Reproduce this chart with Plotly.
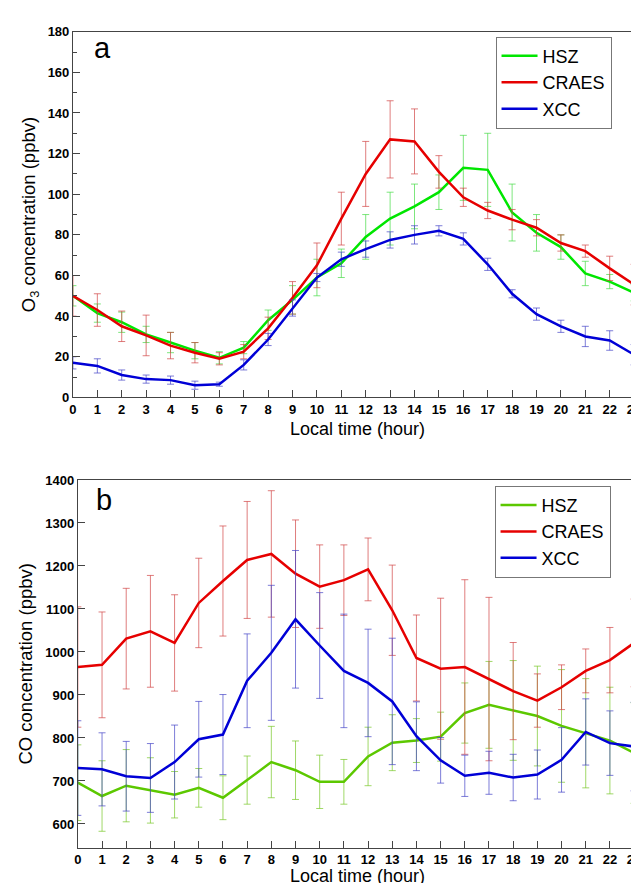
import plotly.graph_objects as go

hours = list(range(24))

# panel a: O3 (ppbv)
o3_hsz = [50, 41.5, 37, 31, 27, 23, 19.5, 24.5, 38, 48, 59, 66, 79, 88, 94, 101,
          113, 112, 91, 81, 74, 61, 57, 51.5]
o3_hsz_err = [5, 4.5, 5, 4, 5, 4, 3, 3, 5, 7, 9, 7, 11, 13, 11, 8.5,
              16, 18, 14, 9, 6, 6, 3.5, 4]
o3_craes = [50, 43, 35, 30.5, 25.5, 22, 19, 22.5, 34, 49, 65, 88, 110, 127, 126, 111,
            98.5, 92, 87.5, 83.5, 76, 72, 63.5, 55.5]
o3_craes_err = [10, 8, 7.5, 10, 6.5, 5, 3, 3.5, 5.5, 8, 11, 13, 16, 19, 16, 8,
                4.5, 4, 5, 4, 4, 3, 6, 10]
o3_xcc = [17, 15.5, 11, 9, 8.5, 6, 6.5, 16, 28.5, 44, 59, 68, 73, 77.5, 80, 82,
          78, 65.5, 51, 41, 35, 30, 28, 21]
o3_xcc_err = [3, 3.5, 2.5, 2, 2, 2, 1, 2.5, 3, 4, 2, 3.5, 4, 4, 4.5, 2.5,
              3, 3, 2, 3, 3, 5, 4.8, 5]

# panel b: CO (ppbv)
co_hsz = [696, 665, 689, 678, 668, 684, 661, 702, 744, 725, 698, 698, 757, 789, 794, 803,
          858, 877, 864, 851, 828, 811, 794, 765]
co_hsz_err = [88, 82, 84, 76, 54, 45, 51, 56, 83, 68, 62, 52, 68, 65, 51, 57,
              70, 101, 116, 116, 131, 127, 124, 117]
co_craes = [965, 970, 1031, 1048, 1021, 1114, 1165, 1214, 1228, 1182, 1152, 1167, 1192, 1097, 986, 961,
            965, 937, 909, 887, 918, 956, 981, 1021]
co_craes_err = [140, 123, 117, 130, 112, 104, 128, 136, 147, 125, 97, 82, 73, 105, 100, 164,
                203, 190, 113, 62, 52, 51, 76, 102]
co_xcc = [730, 727, 711, 707, 744, 797, 808, 933, 998, 1076, 1015, 956, 928, 885, 804, 748,
          712, 719, 708, 715, 749, 814, 788, 780]
co_xcc_err = [110, 85, 81, 80, 86, 88, 93, 109, 157, 160, 123, 132, 125, 147, 80, 53,
              48, 50, 54, 57, 75, 77, 75, 103]

names = ["HSZ", "CRAES", "XCC"]
colors_a = ["#00e600", "#e60000", "#0000d6"]
err_a = ["rgba(70,220,70,0.7)", "rgba(210,70,70,0.7)", "rgba(70,70,200,0.7)"]
colors_b = ["#5cc800", "#e60000", "#0000d6"]
err_b = ["rgba(120,200,40,0.7)", "rgba(210,70,70,0.7)", "rgba(70,70,200,0.7)"]

fig = go.Figure()

series_a = [(o3_hsz, o3_hsz_err), (o3_craes, o3_craes_err), (o3_xcc, o3_xcc_err)]
series_b = [(co_hsz, co_hsz_err), (co_craes, co_craes_err), (co_xcc, co_xcc_err)]

for i, (vals, errs) in enumerate(series_a):
    fig.add_trace(go.Scatter(
        x=hours, y=vals, mode="lines", name=names[i],
        line=dict(color=colors_a[i], width=2.5),
        error_y=dict(type="data", array=errs, color=err_a[i], thickness=1, width=3.5),
        xaxis="x", yaxis="y", legend="legend", cliponaxis=False,
    ))

for i, (vals, errs) in enumerate(series_b):
    fig.add_trace(go.Scatter(
        x=hours, y=vals, mode="lines", name=names[i],
        line=dict(color=colors_b[i], width=2.5),
        error_y=dict(type="data", array=errs, color=err_b[i], thickness=1, width=3.5),
        xaxis="x2", yaxis="y2", legend="legend2", cliponaxis=False,
    ))

W, H = 639, 883
tick_font = dict(family="Liberation Sans Narrow, Arial Narrow, Liberation Sans", size=13,
                 color="black", weight="bold")
title_font = dict(family="Liberation Sans, Arial", size=18.5, color="black")
xtitle_font = dict(family="Liberation Sans, Arial", size=18, color="black")
label_font = dict(family="Liberation Sans, Arial", size=29, color="black")

common_x = dict(range=[0, 23], dtick=1, ticks="inside", ticklen=7, tickcolor="#444",
                showline=True, linecolor="#444", linewidth=1, mirror=True,
                showgrid=False, zeroline=False, tickfont=tick_font,
                ticklabeloverflow="allow")
common_y = dict(ticks="inside", ticklen=7, tickcolor="#444",
                showline=True, linecolor="#444", linewidth=1, mirror=True,
                showgrid=False, zeroline=False, tickfont=tick_font)

legend_style = dict(font=dict(family="Liberation Sans, Arial", size=18, color="black"),
                    bordercolor="#777", borderwidth=1, bgcolor="white",
                    xanchor="left", yanchor="top", tracegroupgap=0, itemwidth=36)

fig.update_layout(
    width=W, height=H,
    margin=dict(l=0, r=0, t=0, b=0),
    plot_bgcolor="white", paper_bgcolor="white",
    xaxis=dict(common_x, domain=[62 / W, 633 / W], anchor="y"),
    yaxis=dict(common_y, domain=[(H - 389) / H, (H - 17) / H], anchor="x",
               range=[0, 180], dtick=20,
               minor=dict(dtick=10, ticks="inside", ticklen=4, tickcolor="#444"),
               title=dict(text="O<sub>3</sub> concentration (ppbv)", font=title_font, standoff=7)),
    xaxis2=dict(common_x, domain=[67 / W, 633 / W], anchor="y2"),
    yaxis2=dict(common_y, domain=[36 / H, (H - 473) / H], anchor="x2",
                range=[545, 1400], dtick=100,
                title=dict(text="CO concentration (ppbv)", font=title_font, standoff=7)),
    legend=dict(legend_style, x=492 / W, y=(H - 22) / H),
    legend2=dict(legend_style, x=491 / W, y=(H - 479) / H),
    annotations=[
        dict(text="a", xref="paper", yref="paper", x=81 / W, y=(H - 34) / H,
             xanchor="left", yanchor="middle", showarrow=False, font=label_font),
        dict(text="b", xref="paper", yref="paper", x=83 / W, y=(H - 493) / H,
             xanchor="left", yanchor="middle", showarrow=False, font=label_font),
        dict(text="Local time (hour)", xref="paper", yref="paper", x=352 / W, y=(H - 421) / H,
             xanchor="center", yanchor="middle", showarrow=False, font=xtitle_font),
        dict(text="Local time (hour)", xref="paper", yref="paper", x=352 / W, y=(H - 876) / H,
             xanchor="center", yanchor="middle", showarrow=False, font=xtitle_font),
    ],
    shapes=[
        dict(type="line", xref="paper", yref="paper", x0=633 / W, x1=633 / W,
             y0=(H - 389) / H, y1=(H - 17) / H, line=dict(color="#999", width=2)),
        dict(type="line", xref="paper", yref="paper", x0=633 / W, x1=633 / W,
             y0=36 / H, y1=(H - 473) / H, line=dict(color="#999", width=2)),
    ],
)

fig.write_html("out.html")
